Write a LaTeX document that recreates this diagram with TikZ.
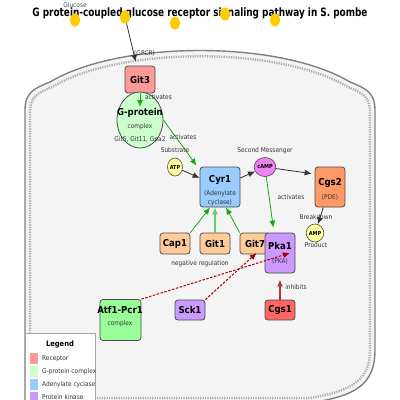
\documentclass[tikz,border=0pt]{standalone}
\usepackage{fontspec}
\setmainfont{DejaVu Sans Condensed}
\newfontfamily\titlefont{DejaVu Sans Condensed}[FakeStretch=0.86]
\usetikzlibrary{arrows.meta,shapes.geometric}

\definecolor{cellfill}{HTML}{F4F4F4}
\definecolor{cellline}{HTML}{808080}
\definecolor{celldots}{HTML}{ABABAB}
\definecolor{glucose}{HTML}{FFCC00}
\definecolor{receptor}{HTML}{FF9999}
\definecolor{gprotein}{HTML}{CCFFCC}
\definecolor{cyclase}{HTML}{99CCFF}
\definecolor{kinase}{HTML}{CC99FF}
\definecolor{regulator}{HTML}{FFCC99}
\definecolor{pde}{HTML}{FF9966}
\definecolor{inhibitor}{HTML}{FF6666}
\definecolor{factor}{HTML}{99FF99}
\definecolor{metab}{HTML}{FFFF99}
\definecolor{messenger}{HTML}{EE82EE}
\definecolor{actgreen}{HTML}{11AA11}
\definecolor{lightact}{HTML}{66CC66}
\definecolor{darkred}{HTML}{AA0000}

\begin{document}
\begin{tikzpicture}[x=1pt,y=-1pt,>={Latex[length=7pt,width=6pt]},
    box/.style={draw=black!70,line width=0.8pt,rounded corners=3pt,inner sep=0pt},
    mol/.style={ellipse,draw=black!70,line width=0.6pt,inner sep=0pt,font=\bfseries\fontsize{5.5}{6}\selectfont},
    protname/.style={font=\bfseries\fontsize{9.5}{10}\selectfont,inner sep=0pt},
    note/.style={font=\fontsize{6.5}{7}\selectfont,text=black!80,inner sep=0pt},
    act/.style={->,draw=actgreen,line width=0.8pt},
    flow/.style={->,draw=black!80,line width=0.8pt},
    reg/.style={->,draw=darkred,line width=1pt,dash pattern=on 2.5pt off 1.5pt}]
  \useasboundingbox (0,0) rectangle (400,400);
  \clip (0,0) rectangle (400,400);

  % cell
  \fill[cellfill] (25,420) -- (25,110) .. controls (25,92) and (35,88) .. (50,82)
    .. controls (120,40) and (280,40) .. (350,82) .. controls (365,88) and (375,92) .. (375,110)
    -- (375,350) .. controls (375,385) and (355,396) .. (310,403) -- (90,403)
    .. controls (45,396) and (25,385) .. (25,350) -- cycle;
  \draw[celldots,line width=2.4pt,dash pattern=on 1.2pt off 1.2pt] (30,420) -- (30,112)
    .. controls (30,96) and (38,93) .. (52,87) .. controls (120,46) and (280,46) .. (348,87)
    .. controls (362,93) and (370,96) .. (370,112) -- (370,350)
    .. controls (370,380) and (352,391) .. (310,398) -- (90,398);
  \draw[cellline,line width=1.4pt] (25,420) -- (25,110) .. controls (25,92) and (35,88) .. (50,82)
    .. controls (120,40) and (280,40) .. (350,82) .. controls (365,88) and (375,92) .. (375,110)
    -- (375,350) .. controls (375,385) and (355,396) .. (310,403) -- (90,403);

  \node[font=\titlefont\bfseries\fontsize{11.5}{12}\selectfont] (title) at (200,13.5)
    {G protein-coupled glucose receptor signaling pathway in S. pombe};
  \node[note,text=black!70] (glclbl) at (75,5) {Glucose};
  \foreach \gx/\gy [count=\i] in {75/20,125/17,175/23,225/14,275/20}
    \node[ellipse,fill=glucose,minimum width=10,minimum height=13,inner sep=0pt] (g\i) at (\gx,\gy) {};

  % receptor and G-protein
  \node[box,fill=receptor,minimum width=30,minimum height=27] (git3) at (140,79.5) {};
  \node[protname] at (140,80) {Git3};
  \node[note,anchor=west] (gpcrlbl) at (134,53) {(GPCR)};
  \draw[flow,shorten >=4pt] (g2) -- (git3);

  \node[ellipse,draw=black!70,line width=0.8pt,fill=gprotein,minimum width=46,minimum height=56] (gprot) at (140,120) {};
  \node[protname] at (140,113) {G-protein};
  \node[note] at (140,127) {complex};
  \node[note] at (140,140) {Git5, Git11, Gpa2};
  \draw[act,shorten >=13pt] (git3) -- (gprot.center);
  \node[note] (act1) at (158.5,97) {activates};

  % adenylate cyclase
  \node[box,fill=cyclase,minimum width=40,minimum height=40] (cyr1) at (220,187) {};
  \node[protname] at (220,180) {Cyr1};
  \node[note] at (220,194) {(Adenylate};
  \node[note] at (220,203) {cyclase)};
  \draw[act] (gprot.east) -- ([xshift=-3pt,yshift=1pt]cyr1.north west);
  \node[note] (act2) at (183,137) {activates};

  \node[mol,fill=metab,minimum width=15,minimum height=18] (atp) at (175,167) {ATP};
  \node[note] at (175,150) {Substrate};
  \draw[flow] (atp) -- (cyr1);

  \node[mol,fill=messenger,minimum width=16,minimum height=19] (camp) at (265,167) {cAMP};
  \node[note] at (265,151) {Second Messenger};
  \draw[flow] (cyr1) -- (camp);

  % phosphodiesterase
  \node[box,fill=pde,minimum width=30,minimum height=40] (cgs2) at (330,187) {};
  \node[protname] at (330,183) {Cgs2};
  \node[note] at (330,197) {(PDE)};
  \draw[flow,shorten >=3pt] (camp) -- ([yshift=13pt]cgs2.west);
  \node[mol,fill=metab,minimum width=15,minimum height=18] (amp) at (315,233) {AMP};
  \draw[flow] (cgs2) -- (amp);
  \node[note] at (316,217) {Breakdown};
  \node[note] at (316,245) {Product};

  % regulators of Cyr1
  \node[box,fill=regulator,minimum width=30,minimum height=21] (cap1) at (175,243.5) {};
  \node[protname] at (175,244) {Cap1};
  \node[box,fill=regulator,minimum width=30,minimum height=21] (git1) at (215,243.5) {};
  \node[protname] at (215,244) {Git1};
  \node[box,fill=regulator,minimum width=30,minimum height=21] (git7) at (255,243.5) {};
  \node[protname] at (255,244) {Git7};
  \draw[act] (cap1.north east) -- ([xshift=-10pt]cyr1.south);
  \draw[->,draw=lightact,line width=1.2pt] (git1.north) -- (git1.north |- cyr1.south);
  \draw[act] (git7.north west) -- ([xshift=6pt]cyr1.south);
  \node[note] at (200,264) {negative regulation};

  % protein kinase A
  \node[box,fill=kinase,minimum width=30,minimum height=40] (pka1) at (280,253) {};
  \node[protname] at (280,246) {Pka1};
  \node[note] at (280,261) {(PKA)};
  \draw[act,shorten >=5pt] (camp) -- ([xshift=-6pt]pka1.north);
  \node[note] at (291,197) {activates};

  % lower row
  \node[box,fill=factor,minimum width=41,minimum height=41] (atf1) at (120.5,320) {};
  \node[protname] at (120,310) {Atf1-Pcr1};
  \node[note] at (120,324) {complex};
  \node[box,fill=kinase,minimum width=30,minimum height=20] (sck1) at (190,310) {};
  \node[protname] at (190,310) {Sck1};
  \node[box,fill=inhibitor,minimum width=30,minimum height=20] (cgs1) at (280,310) {};
  \node[protname] at (280,310) {Cgs1};
  \draw[->,draw=darkred!80,line width=1.4pt,shorten >=6pt] (cgs1) -- (pka1);
  \node[note] at (296,287) {inhibits};
  \draw[reg] (atf1.north east) -- ([xshift=10pt]pka1.center);
  \draw[reg] (sck1.north east) -- ([xshift=-8pt]pka1.west);

  % legend
  \node[draw=black!35,line width=1pt,fill=white,minimum width=70,minimum height=80,anchor=north west] (legend) at (25,333) {};
  \node[font=\bfseries\fontsize{7.5}{8}\selectfont] at (60,344) {Legend};
  \foreach \c/\t [count=\i] in {receptor/Receptor,gprotein/G-protein complex,cyclase/Adenylate cyclase,kinase/Protein kinase}
    \fill[\c] (30,{353+13*(\i-1)}) rectangle ++(8,11)
      node[note,anchor=west,pos=1,yshift=5.5pt,xshift=4pt] {\t};
\end{tikzpicture}
\end{document}
